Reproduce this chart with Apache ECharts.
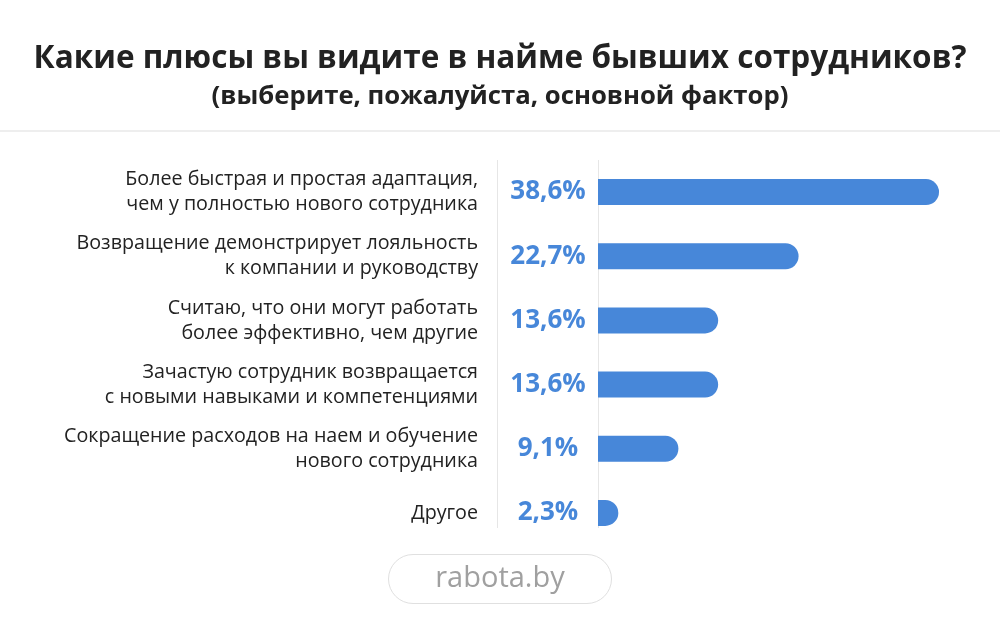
<!DOCTYPE html>
<html>
<head>
<meta charset="utf-8">
<script src="https://cdn.jsdelivr.net/npm/echarts@6/dist/echarts.min.js"></script>
<style>html,body{margin:0;padding:0;background:#fff;}#c{width:1000px;height:631px;}</style>
</head>
<body>
<div id="c"></div>
<script>
const categories = [
  'Более быстрая и простая адаптация,\nчем у полностью нового сотрудника',
  'Возвращение демонстрирует лояльность\nк компании и руководству',
  'Считаю, что они могут работать\nболее эффективно, чем другие',
  'Зачастую сотрудник возвращается\nс новыми навыками и компетенциями',
  'Сокращение расходов на наем и обучение\nнового сотрудника',
  'Другое'
];
const values = [38.6, 22.7, 13.6, 13.6, 9.1, 2.3];
const titleText = 'Какие плюсы вы видите в найме бывших сотрудников?';
const subtitleText = '(выберите, пожалуйста, основной фактор)';
const footerText = 'rabota.by';

const FONT = '"Open Sans", sans-serif';
const chart = echarts.init(document.getElementById('c'));
chart.setOption({
  backgroundColor: '#ffffff',
  animation: false,
  title: {
    text: titleText,
    subtext: subtitleText,
    left: 'center',
    top: 38,
    itemGap: 9,
    textStyle: { fontFamily: FONT, fontSize: 31.5, fontWeight: 'bold', color: '#222222' },
    subtextStyle: { fontFamily: FONT, fontSize: 25.7, fontWeight: 'bold', color: '#222222' }
  },
  grid: { left: 598, top: 160, height: 385, width: 353.4 },
  xAxis: {
    type: 'value', min: 0, max: 40, show: false
  },
  yAxis: {
    type: 'category',
    data: categories,
    inverse: true,
    axisLine: { show: false },
    axisTick: { show: false },
    splitLine: { show: false },
    axisLabel: {
      margin: 120,
      align: 'right',
      fontFamily: FONT,
      fontSize: 19.7,
      lineHeight: 25,
      color: '#222222'
    }
  },
  series: [{
    type: 'bar',
    data: values,
    barWidth: 26,
    itemStyle: { color: '#4787d9', borderRadius: [0, 13, 13, 0] },
    label: {
      show: true,
      position: [-50, '50%'],
      align: 'center',
      verticalAlign: 'middle',
      formatter: p => String(p.value).replace('.', ',') + '%',
      fontFamily: FONT,
      fontSize: 26,
      fontWeight: 'bold',
      color: '#4787d9'
    }
  }],
  graphic: [
    { type: 'line', shape: { x1: 0, y1: 131, x2: 1000, y2: 131 }, style: { stroke: '#eeeeee', lineWidth: 2 } },
    { type: 'line', shape: { x1: 497.5, y1: 160, x2: 497.5, y2: 528 }, style: { stroke: '#e6e6e6', lineWidth: 1 } },
    { type: 'line', shape: { x1: 598.5, y1: 160, x2: 598.5, y2: 528 }, style: { stroke: '#e6e6e6', lineWidth: 1 } },
    { type: 'rect', shape: { x: 388.5, y: 554.5, width: 223, height: 49, r: 24.5 }, style: { fill: '#ffffff', stroke: '#e0e0e0', lineWidth: 1 } },
    { type: 'text', x: 500, y: 579, style: { text: footerText, fontFamily: FONT, fontSize: 29, fill: '#a0a0a0', align: 'center', verticalAlign: 'middle' } }
  ]
});
</script>
</body>
</html>
